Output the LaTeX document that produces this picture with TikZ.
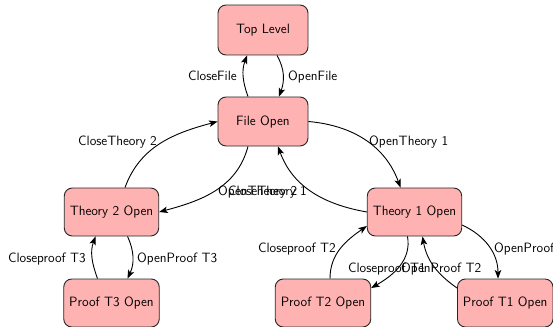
\documentclass[tikz,border=0pt]{standalone}
\usetikzlibrary{arrows.meta}

\tikzset{
  statebox/.style={draw=black!85, line width=0.9pt, fill=red!30,
    rounded corners=8pt, minimum width=90pt, minimum height=48pt,
    inner xsep=5.5pt, font=\fontsize{13.5}{16}\selectfont\sffamily},
  trans/.style={line width=0.9pt, -{Stealth[length=8.5pt,width=6.5pt,inset=2pt]}},
  lbl/.style={inner sep=0pt, font=\fontsize{13.5}{16}\selectfont\sffamily},
}

\begin{document}
\begin{tikzpicture}[x=1pt,y=1pt]
\useasboundingbox (0,0) rectangle (553,-326);
\clip (0,0) rectangle (553,-326);

% states
\node[statebox, minimum height=50pt] (top)  at (263,-30)    {Top Level};
\node[statebox, minimum height=49pt] (file) at (263,-121.5) {File Open};
\node[statebox] (th2) at (111.5,-212) {Theory 2 Open};
\node[statebox] (th1) at (414.5,-212) {Theory 1 Open};
\node[statebox] (p3)  at (111.5,-303) {Proof T3 Open};
\node[statebox] (p2)  at (323,-303)   {Proof T2 Open};
\node[statebox, anchor=west] (p1) at (457,-303) {Proof T1 Open};

% top level <-> file
\draw[trans] ([xshift=14pt]top.south) to[out=-60,in=70] ([xshift=16pt]file.north);
\draw[trans] ([xshift=-15pt]file.north) to[out=110,in=-110] ([xshift=-16pt]top.south);
\node[lbl, anchor=base west] (lOF) at (288,-81) {OpenFile};
\node[lbl, anchor=base east] (lCF) at (237,-81) {CloseFile};

% file <-> theories
\draw[trans] ([xshift=13.5pt]th2.north) to[out=70,in=195] (file.west);
\node[lbl, anchor=base east] (lCT2) at (157,-145) {CloseTheory 2};
\draw[trans] (file.east) to[out=-5,in=110] ([xshift=-14pt]th1.north);
\node[lbl, anchor=base west] (lOT1) at (369,-145) {OpenTheory 1};
\draw[trans] ([xshift=-15pt]file.south) to[out=-105,in=15] (th2.east);
\node[lbl, anchor=base west] (lOT2) at (218,-195.5) {OpenTheory 2};
\draw[trans] (th1.west) to[out=170,in=-70] ([xshift=15pt]file.south);
\node[lbl, anchor=base east] (lCT1) at (307,-195.5) {CloseTheory 1};

% theory 2 <-> proof T3
\draw[trans] ([xshift=16pt]th2.south) to[out=-65,in=65] ([xshift=16pt]p3.north);
\node[lbl, anchor=base west] (lOP3) at (137,-262) {OpenProof T3};
\draw[trans] ([xshift=-14pt]p3.north) to[out=110,in=-110] ([xshift=-16pt]th2.south);
\node[lbl, anchor=base east] (lCP3) at (86,-262) {Closeproof T3};

% theory 1 <-> proofs T2, T1
\draw[trans] ([xshift=7pt]p2.north) to[out=90,in=215] ([yshift=-14pt]th1.west);
\node[lbl, anchor=base east] (lCP2) at (336,-252) {Closeproof T2};
\draw[trans] ([xshift=-7pt]th1.south) to[out=-80,in=30] ([yshift=15pt]p2.east);
\node[lbl, anchor=base west] (lOP2) at (401,-272.5) {OpenProof T2};
\draw[trans] ([yshift=15pt]p1.west) to[out=145,in=-80] ([xshift=8pt]th1.south);
\node[lbl, anchor=base east] (lCP1) at (426,-272.5) {Closeproof T1};
\draw[trans] ([yshift=-13pt]th1.east) to[out=-25,in=90] ([xshift=41pt]p1.north west);
\node[lbl, anchor=base west] (lOP1) at (494,-252) {OpenProof T1};
\end{tikzpicture}
\end{document}
